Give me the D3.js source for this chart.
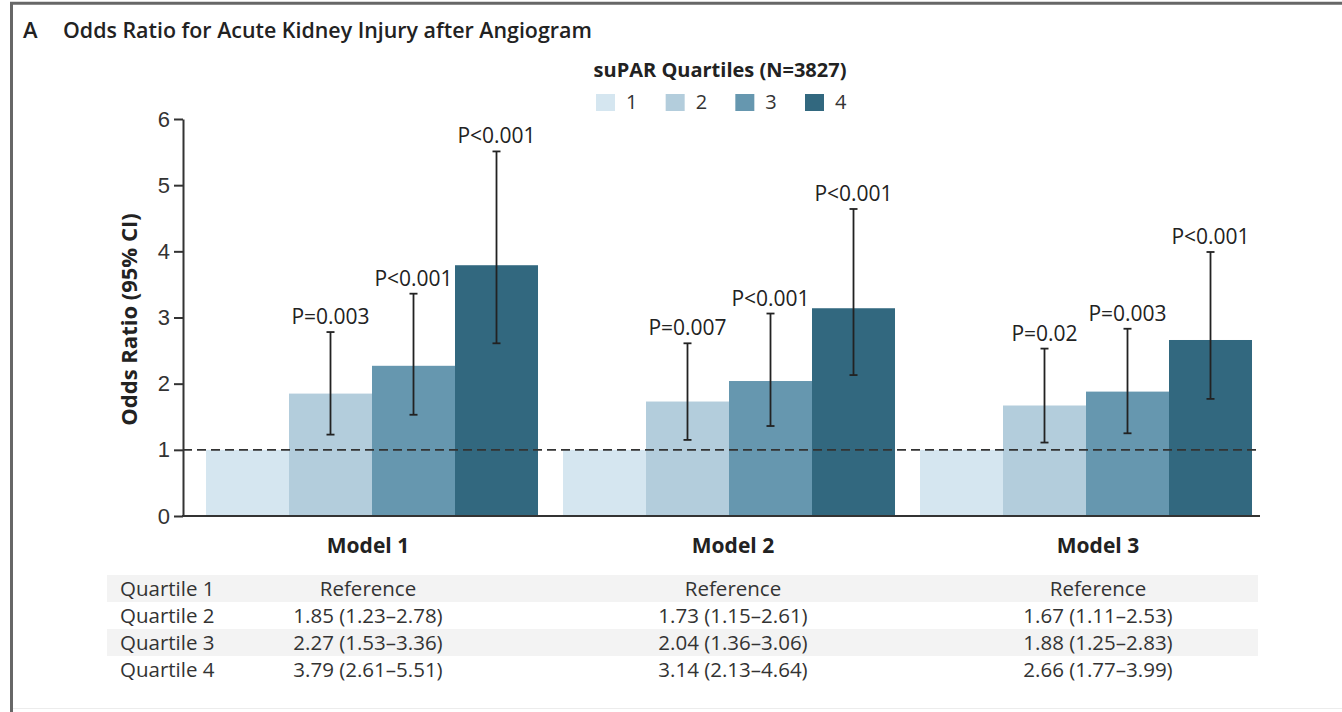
<!DOCTYPE html>
<html>
<head>
<meta charset="utf-8">
<script src="https://cdn.jsdelivr.net/npm/d3@7"></script>
<style>
  body { margin: 0; background: #fff; }
  svg { display: block; font-family: "Open Sans", sans-serif; }
  .tick text { font-size: 22px; fill: #333; }
  .axis path, .axis line { stroke: #333; stroke-width: 2; }
</style>
</head>
<body>
<svg width="1342" height="712"></svg>
<script>
  // values
  const models = ['Model 1', 'Model 2', 'Model 3'];
  const quartiles = ['1', '2', '3', '4'];
  const rowLabels = ['Quartile 1', 'Quartile 2', 'Quartile 3', 'Quartile 4'];
  const oddsRatio = [
    [1, 1.85, 2.27, 3.79],
    [1, 1.73, 2.04, 3.14],
    [1, 1.67, 1.88, 2.66]
  ];
  const ciLow = [
    [null, 1.23, 1.53, 2.61],
    [null, 1.15, 1.36, 2.13],
    [null, 1.11, 1.25, 1.77]
  ];
  const ciHigh = [
    [null, 2.78, 3.36, 5.51],
    [null, 2.61, 3.06, 4.64],
    [null, 2.53, 2.83, 3.99]
  ];
  const pLabels = [
    [null, 'P=0.003', 'P<0.001', 'P<0.001'],
    [null, 'P=0.007', 'P<0.001', 'P<0.001'],
    [null, 'P=0.02', 'P=0.003', 'P<0.001']
  ];
  const yTicks = [0, 1, 2, 3, 4, 5, 6];
  const colors = ['#d5e6f0', '#b3cddc', '#6697af', '#32687f'];

  const svg = d3.select('svg');

  // frame
  svg.append('line').attr('x1', 11.5).attr('x2', 11.5).attr('y1', 2).attr('y2', 712)
    .attr('stroke', '#676767').attr('stroke-width', 3);
  svg.append('line').attr('x1', 10).attr('x2', 1342).attr('y1', 3.2).attr('y2', 3.2)
    .attr('stroke', '#676767').attr('stroke-width', 3);
  svg.append('line').attr('x1', 13).attr('x2', 1342).attr('y1', 708.5).attr('y2', 708.5)
    .attr('stroke', '#ececec').attr('stroke-width', 1);

  // title
  svg.append('text').attr('x', 23).attr('y', 38)
    .attr('font-size', 22).attr('font-weight', 600).attr('fill', '#222')
    .text('A');
  svg.append('text').attr('x', 63).attr('y', 38)
    .attr('font-size', 21.4).attr('font-weight', 600).attr('fill', '#222')
    .text('Odds Ratio for Acute Kidney Injury after Angiogram');

  // scales
  const y = d3.scaleLinear().domain([0, 6]).range([516, 119]);
  const x0 = d3.scaleBand().domain(models).range([193.5, 1264.5])
    .paddingInner(0.07).paddingOuter(0.035);
  const x1 = d3.scaleBand().domain(quartiles).range([0, x0.bandwidth()]);
  const col = d3.scalePoint().domain(models).range([368, 1098]);
  const color = d3.scaleOrdinal().domain(quartiles).range(colors);

  // legend
  const legend = svg.append('g');
  legend.append('text').attr('x', 720).attr('y', 77)
    .attr('text-anchor', 'middle').attr('font-size', 20).attr('font-weight', 700)
    .attr('fill', '#222').text('suPAR Quartiles (N=3827)');
  const legendX = d3.scalePoint().domain(quartiles).range([596, 805]);
  const items = legend.selectAll('g.item').data(quartiles).enter()
    .append('g').attr('class', 'item')
    .attr('transform', d => `translate(${legendX(d)},94)`);
  items.append('rect').attr('width', 19).attr('height', 17).attr('fill', d => color(d));
  items.append('text').attr('x', 30).attr('y', 15)
    .attr('font-size', 20).attr('fill', '#333').text(d => d);

  // bars
  const rows = models.map((m, i) => quartiles.map((q, j) => ({
    model: m, q, or: oddsRatio[i][j], lo: ciLow[i][j], hi: ciHigh[i][j], p: pLabels[i][j]
  })));

  const groups = svg.selectAll('g.model').data(rows).enter()
    .append('g').attr('class', 'model')
    .attr('transform', (d, i) => `translate(${x0(models[i])},0)`);

  groups.selectAll('rect').data(d => d).enter()
    .append('rect')
    .attr('x', d => x1(d.q))
    .attr('y', d => y(d.or))
    .attr('width', x1.bandwidth())
    .attr('height', d => y(0) - y(d.or))
    .attr('fill', d => color(d.q));

  // reference line
  svg.append('line')
    .attr('x1', 183).attr('x2', 1260)
    .attr('y1', y(1)).attr('y2', y(1))
    .attr('stroke', '#333').attr('stroke-width', 1.8)
    .attr('stroke-dasharray', '9,5');

  // error bars
  const withCi = d => d.filter(e => e.lo !== null);
  const err = groups.selectAll('g.err').data(withCi).enter()
    .append('g').attr('class', 'err')
    .attr('transform', d => `translate(${x1(d.q) + x1.bandwidth() / 2},0)`);
  err.append('line').attr('y1', d => y(d.lo)).attr('y2', d => y(d.hi))
    .attr('stroke', '#222').attr('stroke-width', 1.8);
  err.append('line').attr('x1', -4).attr('x2', 4)
    .attr('y1', d => y(d.hi)).attr('y2', d => y(d.hi))
    .attr('stroke', '#222').attr('stroke-width', 1.8);
  err.append('line').attr('x1', -4).attr('x2', 4)
    .attr('y1', d => y(d.lo)).attr('y2', d => y(d.lo))
    .attr('stroke', '#222').attr('stroke-width', 1.8);
  err.append('text').attr('y', d => y(d.hi) - 8)
    .attr('text-anchor', 'middle').attr('font-size', 21).attr('fill', '#222')
    .text(d => d.p);

  // axes
  svg.append('g').attr('class', 'axis')
    .attr('transform', 'translate(183,0)')
    .call(d3.axisLeft(y).tickValues(yTicks).tickFormat(d3.format('d'))
      .tickSize(9).tickSizeOuter(0).tickPadding(4));
  svg.append('line').attr('x1', 182).attr('x2', 1260)
    .attr('y1', y(0)).attr('y2', y(0))
    .attr('stroke', '#333').attr('stroke-width', 2);

  svg.append('text')
    .attr('transform', `translate(137,${(y(0) + y(6)) / 2 + 2}) rotate(-90)`)
    .attr('text-anchor', 'middle').attr('font-size', 22).attr('font-weight', 700)
    .attr('fill', '#222').text('Odds Ratio (95% CI)');

  svg.selectAll('text.model-label').data(models).enter()
    .append('text').attr('class', 'model-label')
    .attr('x', d => col(d)).attr('y', 553)
    .attr('text-anchor', 'middle').attr('font-size', 21).attr('font-weight', 700)
    .attr('fill', '#222').text(d => d);

  // table under the chart
  const rowY = d3.scaleBand().domain(rowLabels).range([575, 683]);
  svg.selectAll('rect.stripe').data(rowLabels.filter((d, i) => i % 2 === 0)).enter()
    .append('rect').attr('class', 'stripe')
    .attr('x', 107).attr('width', 1151)
    .attr('y', d => rowY(d)).attr('height', rowY.bandwidth())
    .attr('fill', '#f3f3f3');

  svg.selectAll('text.row-label').data(rowLabels).enter()
    .append('text').attr('class', 'row-label')
    .attr('x', 120).attr('y', d => rowY(d) + 21)
    .attr('font-size', 20.5).attr('fill', '#333').text(d => d);

  const fmt = d3.format('.2f');
  models.forEach((m, i) => {
    svg.selectAll(null).data(rowLabels).enter()
      .append('text')
      .attr('x', col(m)).attr('y', d => rowY(d) + 21)
      .attr('text-anchor', 'middle').attr('font-size', 20.5).attr('fill', '#333')
      .text((d, j) => ciLow[i][j] === null
        ? 'Reference'
        : `${fmt(oddsRatio[i][j])} (${fmt(ciLow[i][j])}\u2013${fmt(ciHigh[i][j])})`);
  });
</script>
</body>
</html>
